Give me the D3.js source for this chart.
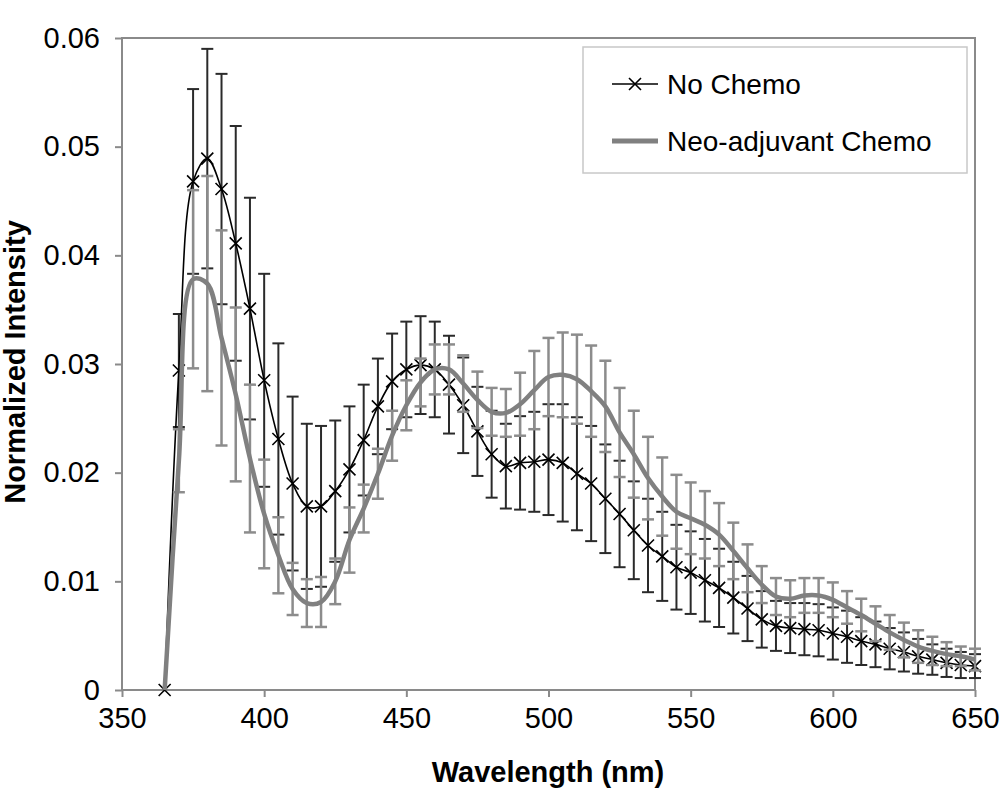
<!DOCTYPE html>
<html>
<head>
<meta charset="utf-8">
<script src="https://cdn.jsdelivr.net/npm/d3@7"></script>
<style>
  body { margin: 0; background: #fff; }
  text { font-family: "Liberation Sans", Arial, sans-serif; }
</style>
</head>
<body>
<div id="chart"></div>
<script>
// wavelengths (nm), one point every 5 nm
var wavelengths = [365, 370, 375, 380, 385, 390, 395, 400, 405, 410, 415, 420, 425, 430, 435, 440, 445, 450, 455, 460,
  465, 470, 475, 480, 485, 490, 495, 500, 505, 510, 515, 520, 525, 530, 535, 540, 545, 550, 555, 560,
  565, 570, 575, 580, 585, 590, 595, 600, 605, 610, 615, 620, 625, 630, 635, 640, 645, 650];

var noChemo = [0, 0.0294, 0.0468, 0.0489, 0.0461, 0.0411, 0.0351, 0.0285, 0.0231, 0.0190, 0.0169, 0.0169, 0.0183, 0.0203, 0.0230, 0.0261, 0.0284, 0.0295, 0.0299, 0.0295,
  0.0281, 0.0262, 0.0238, 0.0217, 0.0206, 0.0209, 0.0210, 0.0212, 0.0209, 0.0199, 0.0190, 0.0176, 0.0162, 0.0147, 0.0133, 0.0123, 0.0113, 0.0108, 0.0101, 0.0094,
  0.0085, 0.0075, 0.0065, 0.0059, 0.0057, 0.0056, 0.0055, 0.0052, 0.0049, 0.0045, 0.0042, 0.0038, 0.0035, 0.0031, 0.0028, 0.0025, 0.0023, 0.0022];
var noChemoErr = [0, 0.0052, 0.0085, 0.0101, 0.0106, 0.0108, 0.0102, 0.0098, 0.0088, 0.0080, 0.0076, 0.0074, 0.0065, 0.0058, 0.0051, 0.0044, 0.0044, 0.0044, 0.0045, 0.0044,
  0.0045, 0.0044, 0.0041, 0.0040, 0.0039, 0.0043, 0.0046, 0.0051, 0.0054, 0.0052, 0.0053, 0.0050, 0.0049, 0.0045, 0.0043, 0.0041, 0.0039, 0.0038, 0.0038, 0.0036,
  0.0033, 0.0030, 0.0026, 0.0023, 0.0023, 0.0024, 0.0024, 0.0024, 0.0024, 0.0022, 0.0021, 0.0019, 0.0018, 0.0016, 0.0014, 0.0013, 0.0012, 0.0011];

var neoChemo = [0, 0.0211, 0.0378, 0.0374, 0.0324, 0.0272, 0.0213, 0.0162, 0.0124, 0.0093, 0.0080, 0.0081, 0.0100, 0.0138, 0.0167, 0.0199, 0.0234, 0.0262, 0.0283, 0.0295,
  0.0295, 0.0282, 0.0267, 0.0256, 0.0255, 0.0263, 0.0276, 0.0288, 0.0290, 0.0286, 0.0275, 0.0261, 0.0237, 0.0217, 0.0195, 0.0178, 0.0164, 0.0158, 0.0152, 0.0143,
  0.0128, 0.0112, 0.0097, 0.0086, 0.0084, 0.0087, 0.0087, 0.0083, 0.0076, 0.0069, 0.0061, 0.0053, 0.0046, 0.0040, 0.0036, 0.0033, 0.0031, 0.0028];
var neoChemoErr = [0, 0.0029, 0.0082, 0.0099, 0.0099, 0.0080, 0.0068, 0.0050, 0.0035, 0.0024, 0.0022, 0.0023, 0.0021, 0.0030, 0.0022, 0.0023, 0.0023, 0.0023, 0.0022, 0.0023,
  0.0023, 0.0026, 0.0026, 0.0022, 0.0022, 0.0029, 0.0036, 0.0036, 0.0039, 0.0041, 0.0042, 0.0042, 0.0041, 0.0040, 0.0038, 0.0036, 0.0034, 0.0033, 0.0031, 0.0029,
  0.0026, 0.0022, 0.0017, 0.0017, 0.0017, 0.0016, 0.0016, 0.0016, 0.0015, 0.0015, 0.0016, 0.0016, 0.0016, 0.0015, 0.0013, 0.0011, 0.0009, 0.0010];

var xTicks = [350, 400, 450, 500, 550, 600, 650];
var yTicks = [0, 0.01, 0.02, 0.03, 0.04, 0.05, 0.06];
var seriesNames = ["No Chemo", "Neo-adjuvant Chemo"];

var svgWidth = 1001;
var svgHeight = 797;
var margin = {top: 38, right: 26, bottom: 107, left: 122};
var width = svgWidth - margin.left - margin.right;
var height = svgHeight - margin.top - margin.bottom;

var svg = d3.select("#chart")
  .append("svg")
  .attr("width", svgWidth)
  .attr("height", svgHeight);

var g = svg.append("g")
  .attr("transform", "translate(" + margin.left + "," + margin.top + ")");

var x = d3.scaleLinear().domain([350, 650]).range([0, width]);
var y = d3.scaleLinear().domain([0, 0.06]).range([height, 0]);

// axes
var yAxis = g.append("g")
  .call(d3.axisLeft(y).tickValues(yTicks).tickSize(7).tickPadding(15)
    .tickFormat(d => d === 0 ? "0" : d3.format(".2f")(d)));
var xAxis = g.append("g")
  .attr("transform", "translate(0," + height + ")")
  .call(d3.axisBottom(x).tickValues(xTicks).tickSize(7).tickPadding(10));

[xAxis, yAxis].forEach(function(a) {
  a.select(".domain").remove();
  a.selectAll("line").attr("stroke", "#8a8a8a").attr("stroke-width", 2);
  a.selectAll("text").attr("fill", "#000").style("font-size", "29px");
});

// plot frame
g.append("rect")
  .attr("width", width)
  .attr("height", height)
  .attr("fill", "none")
  .attr("stroke", "#8a8a8a")
  .attr("stroke-width", 2);

var pts1 = wavelengths.map((w, i) => ({w: w, v: noChemo[i], e: noChemoErr[i]}));
var pts2 = wavelengths.map((w, i) => ({w: w, v: neoChemo[i], e: neoChemoErr[i]}));

function errorBars(data, color, sw) {
  var eg = g.append("g").attr("stroke", color).attr("stroke-width", sw);
  data.filter(d => d.e > 0).forEach(function(d) {
    var cx = x(d.w);
    eg.append("line").attr("x1", cx).attr("x2", cx).attr("y1", y(d.v - d.e)).attr("y2", y(d.v + d.e));
    eg.append("line").attr("x1", cx - 6).attr("x2", cx + 6).attr("y1", y(d.v - d.e)).attr("y2", y(d.v - d.e));
    eg.append("line").attr("x1", cx - 6).attr("x2", cx + 6).attr("y1", y(d.v + d.e)).attr("y2", y(d.v + d.e));
  });
}

var line = d3.line()
  .x(d => x(d.w))
  .y(d => y(d.v))
  .curve(d3.curveCatmullRom.alpha(0.5));

// No Chemo
errorBars(pts1, "#2a2a2a", 2);
g.append("path")
  .datum(pts1)
  .attr("d", line)
  .attr("fill", "none")
  .attr("stroke", "#000")
  .attr("stroke-width", 1.6);

function xMark(sel, cx, cy) {
  var s = 6;
  sel.append("path")
    .attr("d", "M" + (cx - s) + "," + (cy - s) + "L" + (cx + s) + "," + (cy + s) +
               "M" + (cx - s) + "," + (cy + s) + "L" + (cx + s) + "," + (cy - s))
    .attr("stroke", "#000")
    .attr("stroke-width", 1.6)
    .attr("fill", "none");
}
var mg = g.append("g");
pts1.forEach(d => xMark(mg, x(d.w), y(d.v)));

// Neo-adjuvant Chemo
errorBars(pts2, "#8c8c8c", 2.5);
g.append("path")
  .datum(pts2)
  .attr("d", line)
  .attr("fill", "none")
  .attr("stroke", "#808080")
  .attr("stroke-width", 4.5);

// axis titles
svg.append("text")
  .attr("x", 548)
  .attr("y", 782)
  .attr("text-anchor", "middle")
  .style("font-size", "29px")
  .style("font-weight", "bold")
  .text("Wavelength (nm)");

svg.append("text")
  .attr("transform", "translate(25,362) rotate(-90)")
  .attr("text-anchor", "middle")
  .style("font-size", "29px")
  .style("font-weight", "bold")
  .text("Normalized Intensity");

// legend
var lg = svg.append("g");
lg.append("rect")
  .attr("x", 583).attr("y", 47)
  .attr("width", 384).attr("height", 126)
  .attr("fill", "#fff")
  .attr("stroke", "#c8c8c8")
  .attr("stroke-width", 1.5);
lg.append("line")
  .attr("x1", 612).attr("x2", 658).attr("y1", 84).attr("y2", 84)
  .attr("stroke", "#000").attr("stroke-width", 1.6);
xMark(lg, 635, 84);
lg.append("line")
  .attr("x1", 612).attr("x2", 658).attr("y1", 141).attr("y2", 141)
  .attr("stroke", "#808080").attr("stroke-width", 5);
lg.selectAll("text.leg")
  .data(seriesNames)
  .enter().append("text")
  .attr("class", "leg")
  .attr("x", 667)
  .attr("y", (d, i) => 84 + i * 57)
  .attr("dy", "0.35em")
  .style("font-size", "28px")
  .text(d => d);
</script>
</body>
</html>
